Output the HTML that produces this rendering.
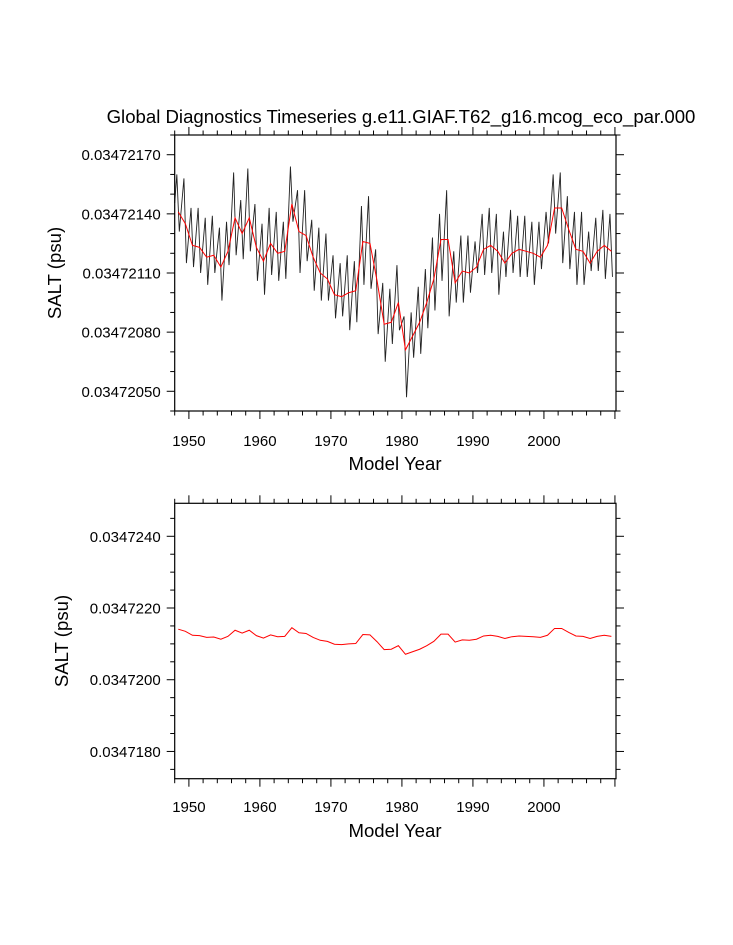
<!DOCTYPE html>
<html><head><meta charset="utf-8"><style>
html,body{margin:0;padding:0;background:#fff;}
svg{display:block;font-family:"Liberation Sans",sans-serif;}
</style></head><body>
<svg id="c" width="733" height="945" viewBox="0 0 733 945">
<text x="401" y="123" text-anchor="middle" font-size="18.6">Global Diagnostics Timeseries g.e11.GIAF.T62_g16.mcog_eco_par.000</text>
</svg>
<script>
const years = [];
for (let y = 1948; y <= 2009; y++) years.push(y);
const annualTop = [141,135,124,123,118,119,113,121,138,130,138,123,116,125,120,121,145,131,129,118,110,107,99,98,100,101,126,125,106,84,85,95,71,78,85,95,107,127,127,105,111,110,113,122,124,121,115,120,122,121,120,118,124,143,143,132,122,121,115,121,124,121];
const monthlyPeaks = [160,158,143,143,138,139,133,136,161,147,163,145,135,143,141,136,164,152,152,137,133,130,119,115,119,116,144,149,122,105,102,114,88,90,103,112,128,140,152,121,129,129,126,140,143,140,131,142,139,139,136,136,141,160,161,149,141,141,131,138,142,140];
const monthlyTroughs = [131,115,113,110,104,110,96,114,119,117,121,106,99,109,106,107,136,110,116,101,96,96,87,88,81,85,104,102,79,65,74,81,47,67,69,82,91,106,88,95,95,100,110,109,110,99,108,110,108,108,104,112,125,130,115,112,104,104,111,111,107,108];
const topTicks = [50,80,110,140,170];
const bottomTicks = [180,200,220,240];
const xTicks = [1950,1960,1970,1980,1990,2000];
const annualBottom = annualTop.map(v => 200 + v / 10);

const NS = "http://www.w3.org/2000/svg";
const svg = document.getElementById('c');
function mk(tag, attrs, parent) {
  const e = document.createElementNS(NS, tag);
  for (const k in attrs) e.setAttribute(k, attrs[k]);
  (parent || svg).appendChild(e);
  return e;
}
const L = 174.7, R = 616, X0 = 1948, X1 = 2010.15;
function xs(yr) { return L + (yr - X0) * (R - L) / (X1 - X0); }

function panel(name, top, bot, vmin, vmax, ticks, minorStep, fmt, titleX, xLabelY, xTitleY) {
  const ys = v => bot - (v - vmin) * (bot - top) / (vmax - vmin);
  const g = mk('g', {});
  
  
  const startMinor = Math.ceil(vmin / minorStep) * minorStep;
  for (let v = startMinor; v <= vmax; v += minorStep) {
    const major = ticks.includes(v);
    const len = major ? 8 : 4.5;
    const y = ys(v);
    const t1 = mk('line', {x1: L - len, x2: L, y1: y, y2: y, stroke: '#000', 'stroke-width': 1}, g);
    
    
    const t2 = mk('line', {x1: R, x2: R + len, y1: y, y2: y, stroke: '#000', 'stroke-width': 1}, g);
    
    
  }
  ticks.forEach(v => {
    const t = mk('text', {x: L - 14, y: ys(v) + 5.5, 'text-anchor': 'end', 'font-size': 15}, g);
    t.textContent = fmt(v);
    
    
  });
  for (let yr = 1948; yr <= 2010; yr += 2) {
    const major = yr % 10 === 0;
    const len = major ? 8 : 4.5;
    const x = xs(yr);
    const a = mk('line', {x1: x, x2: x, y1: bot, y2: bot + len, stroke: '#000', 'stroke-width': 1}, g);
    
    
    const b = mk('line', {x1: x, x2: x, y1: top - len, y2: top, stroke: '#000', 'stroke-width': 1}, g);
    
    
  }
  xTicks.forEach(yr => {
    const t = mk('text', {x: xs(yr), y: xLabelY, 'text-anchor': 'middle', 'font-size': 15}, g);
    t.textContent = yr;
    
    
  });
  const xt = mk('text', {x: 395, y: xTitleY, 'text-anchor': 'middle', 'font-size': 18.6}, g);
  xt.textContent = 'Model Year';
  
  
  const cy = (top + bot) / 2;
  const yt = mk('text', {x: titleX, y: cy, 'text-anchor': 'middle', 'font-size': 18.6, transform: `rotate(-90 ${titleX} ${cy})`}, g);
  yt.textContent = 'SALT (psu)';
  
  
  return {g, ys};
}

const T = panel('top', 135, 411, 40, 180, topTicks, 10, v => '0.03472' + String(v).padStart(3,'0'), 61, 446, 470);
let pts = [];
years.forEach((yr, i) => {
  pts.push([xs(yr + 0.3), T.ys(monthlyPeaks[i])]);
  pts.push([xs(yr + 0.65), T.ys(monthlyTroughs[i])]);
});
pts.unshift([L, T.ys((monthlyPeaks[0] + monthlyTroughs[0]) / 2)]);
const ml = mk('polyline', {points: pts.map(p => p.join(',')).join(' '), fill: 'none', stroke: '#222', 'stroke-width': 0.9});


const al = mk('polyline', {points: years.map((yr, i) => xs(yr + 0.5) + ',' + T.ys(annualTop[i])).join(' '), fill: 'none', stroke: '#f00', 'stroke-width': 1});


const f1 = mk('rect', {x: L, y: 135, width: R - L, height: 276, fill: 'none', stroke: '#000', 'stroke-width': 1.2});



const B = panel('bottom', 503.3, 778.7, 172.4, 249.2, bottomTicks, 5, v => '0.0347' + v, 68, 812, 837);
const bl = mk('polyline', {points: years.map((yr, i) => xs(yr + 0.5) + ',' + B.ys(annualBottom[i])).join(' '), fill: 'none', stroke: '#f00', 'stroke-width': 1});


const f2 = mk('rect', {x: L, y: 503.3, width: R - L, height: 275.4, fill: 'none', stroke: '#000', 'stroke-width': 1.2});


</script>
</body></html>
